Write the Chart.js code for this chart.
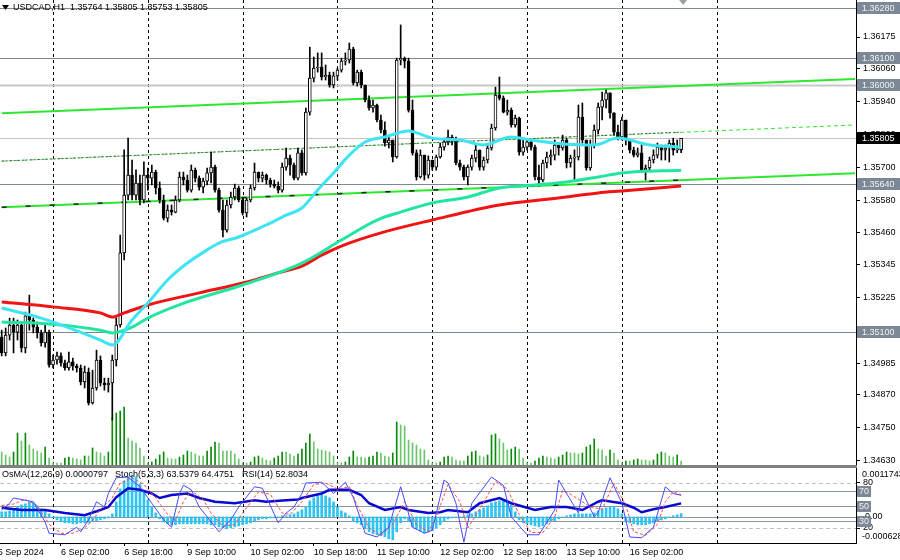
<!DOCTYPE html>
<html>
<head>
<meta charset="utf-8">
<script src="https://cdn.jsdelivr.net/npm/chart.js@4.4.1/dist/chart.umd.min.js"></script>
<style>
  body { margin: 0; background: #fff; width: 900px; height: 560px; overflow: hidden; position: relative; }
  #main { position: absolute; left: 0; top: 0; }
  #osc { position: absolute; left: 0; top: 468px; }
  #sep { position: absolute; left: 0; top: 465px; width: 857px; height: 3px; background: #808080; }
</style>
</head>
<body>
<canvas id="main" width="900" height="465"></canvas>
<div id="sep"></div>
<canvas id="osc" width="900" height="92"></canvas>
<script>
// USDCAD H1, one entry per hourly bar (bar 0 = 5 Sep 11:00)
const firstOpen = 1.35080;
const closes = [
  1.35022,1.35087,1.35124,1.35098,1.35124,1.35040,1.35157,1.35142,1.35116,1.35095,1.35058,1.35098,1.34978,
  1.34996,1.35011,1.34985,1.34967,1.34989,1.34974,1.34967,1.34916,1.34952,1.34839,1.34894,1.34996,1.34912,1.34905,1.34912,1.34996,1.35124,1.35387,1.35598,1.35671,1.35598,1.35642,1.35580,1.35671,
  1.35660,1.35682,1.35624,1.35580,1.35514,1.35543,1.35536,1.35580,1.35664,1.35653,1.35616,1.35689,1.35660,1.35627,1.35649,1.35679,1.35700,1.35616,1.35543,1.35470,1.35562,1.35591,1.35624,1.35580,
  1.35533,1.35580,1.35624,1.35682,1.35660,1.35671,1.35653,1.35638,1.35631,1.35616,1.35700,1.35733,1.35708,1.35660,1.35752,1.35679,1.35901,1.36025,1.36062,1.36065,1.36029,1.36036,1.36000,1.36033,
  1.36054,1.36087,1.36091,1.36131,1.36007,1.36047,1.36000,1.35945,1.35916,1.35927,1.35872,1.35835,1.35788,1.35799,1.35737,1.36091,1.36098,1.36087,1.35908,1.35752,1.35664,1.35744,1.35671,1.35726,
  1.35700,1.35737,1.35773,1.35792,1.35810,1.35799,1.35715,1.35700,1.35664,1.35700,1.35733,1.35762,1.35700,1.35726,1.35770,1.35843,1.35963,1.35952,1.35901,1.35908,1.35854,1.35879,1.35755,1.35773,
  1.35792,1.35773,1.35664,1.35653,1.35715,1.35737,1.35744,1.35781,1.35770,1.35799,1.35715,1.35733,1.35737,1.35883,1.35799,1.35697,1.35781,1.35835,1.35919,1.35945,1.35971,1.35898,1.35828,1.35810,
  1.35872,1.35799,1.35762,1.35744,1.35752,1.35689,1.35697,1.35726,1.35744,1.35773,1.35762,1.35770,1.35788,1.35762,1.35764,1.35805
];
const highs = [
  1.35105,1.35113,1.35149,1.35149,1.35142,1.35135,1.35171,1.35233,1.35149,1.35135,1.35105,1.35124,1.35105,
  1.35014,1.35025,1.35022,1.34996,1.35025,1.35003,1.34981,1.34978,1.34974,1.34967,1.34959,1.35032,1.35011,1.34930,1.34930,1.35014,1.35149,1.35452,1.35763,1.35806,1.35726,1.35690,1.35671,1.35719,
  1.35697,1.35708,1.35689,1.35646,1.35598,1.35562,1.35562,1.35595,1.35682,1.35682,1.35671,1.35708,1.35697,1.35668,1.35660,1.35697,1.35755,1.35708,1.35624,1.35580,1.35580,1.35609,1.35638,1.35631,
  1.35587,1.35587,1.35635,1.35715,1.35682,1.35682,1.35675,1.35660,1.35653,1.35646,1.35715,1.35770,1.35744,1.35715,1.35770,1.35762,1.35916,1.36138,1.36102,1.36117,1.36117,1.36073,1.36047,1.36047,
  1.36062,1.36098,1.36117,1.36153,1.36138,1.36054,1.36054,1.36000,1.35960,1.35945,1.35930,1.35890,1.35865,1.35814,1.35799,1.36098,1.36219,1.36102,1.36098,1.35945,1.35763,1.35763,1.35744,1.35741,
  1.35726,1.35744,1.35788,1.35806,1.35835,1.35817,1.35810,1.35726,1.35708,1.35708,1.35744,1.35781,1.35763,1.35737,1.35781,1.35857,1.35992,1.36029,1.35960,1.35945,1.35916,1.35890,1.35883,1.35799,
  1.35799,1.35799,1.35781,1.35708,1.35726,1.35755,1.35763,1.35799,1.35788,1.35817,1.35806,1.35744,1.35763,1.35927,1.35934,1.35799,1.35799,1.35854,1.35934,1.35974,1.35981,1.35971,1.35898,1.35854,
  1.35883,1.35817,1.35799,1.35773,1.35770,1.35788,1.35708,1.35737,1.35763,1.35788,1.35781,1.35781,1.35799,1.35806,1.35799,1.35805
];
const lows = [
  1.35011,1.35011,1.35069,1.35022,1.35069,1.35025,1.35022,1.35105,1.35095,1.35076,1.35047,1.35043,1.34970,
  1.34967,1.34981,1.34974,1.34959,1.34959,1.34959,1.34952,1.34905,1.34894,1.34832,1.34835,1.34886,1.34901,1.34886,1.34879,1.34777,1.34974,1.35116,1.35361,1.35580,1.35580,1.35580,1.35562,1.35569,
  1.35616,1.35635,1.35602,1.35569,1.35507,1.35500,1.35525,1.35533,1.35573,1.35635,1.35609,1.35609,1.35646,1.35616,1.35606,1.35635,1.35642,1.35609,1.35536,1.35445,1.35463,1.35551,1.35580,1.35573,
  1.35525,1.35518,1.35573,1.35616,1.35646,1.35646,1.35638,1.35627,1.35624,1.35606,1.35609,1.35689,1.35671,1.35653,1.35653,1.35671,1.35671,1.35890,1.36011,1.36047,1.36018,1.36018,1.35992,1.35989,
  1.36018,1.36047,1.36073,1.36080,1.36000,1.35996,1.35989,1.35938,1.35908,1.35901,1.35865,1.35825,1.35777,1.35770,1.35719,1.35733,1.36073,1.36062,1.35901,1.35744,1.35653,1.35660,1.35653,1.35660,
  1.35689,1.35689,1.35733,1.35762,1.35781,1.35781,1.35708,1.35689,1.35653,1.35635,1.35689,1.35719,1.35689,1.35689,1.35715,1.35762,1.35835,1.35945,1.35898,1.35890,1.35846,1.35846,1.35744,1.35744,
  1.35762,1.35762,1.35653,1.35631,1.35646,1.35697,1.35708,1.35726,1.35744,1.35762,1.35697,1.35700,1.35653,1.35726,1.35788,1.35689,1.35689,1.35770,1.35821,1.35872,1.35916,1.35879,1.35817,1.35799,
  1.35799,1.35781,1.35752,1.35737,1.35737,1.35682,1.35653,1.35689,1.35715,1.35733,1.35726,1.35726,1.35719,1.35744,1.35753,1.35753
];
const volumes = [
  13,10,8,13,32,24,32,20,16,14,12,18,7,
  2,2,2,7,8,7,6,5,9,9,17,13,12,9,13,47,52,54,58,27,24,22,17,9,
  2,3,6,10,13,7,6,6,8,10,14,13,11,9,9,14,18,23,22,14,14,14,11,6,
  2,2,3,8,9,7,5,4,7,9,13,13,11,9,11,16,22,31,23,16,15,14,13,9,
  2,2,3,8,14,8,8,7,8,9,13,12,9,8,12,43,40,39,25,22,20,16,15,5,
  2,2,3,8,9,8,5,4,4,9,13,14,9,8,10,30,31,26,22,15,16,18,16,7,
  2,2,4,7,9,8,7,6,8,10,13,12,12,11,12,18,20,26,16,15,9,15,12,5,
  2,4,4,5,6,5,5,4,5,11,13,12,9,8,10,4
];

// moving averages at selected bars
const fastMaBars = [0,10,25,28,33,37,42,47,52,55,60,67,72,76,80,84,88,92,97,103,109,116,122,129,134,143,150,156,164,172];
const fastMa = [1.35186,1.35149,1.35069,1.35051,1.35142,1.35204,1.35288,1.35350,1.35398,1.35423,1.35445,1.35489,1.35525,1.35551,1.35617,1.35679,1.35744,1.35792,1.35810,1.35832,1.35806,1.35799,1.35781,1.35810,1.35799,1.35784,1.35781,1.35806,1.35781,1.35773];
const midMaBars = [0,13,25,28,33,37,47,61,76,86,95,101,109,118,126,135,143,151,157,172];
const midMa = [1.35135,1.35127,1.35105,1.35095,1.35116,1.35149,1.35208,1.35270,1.35350,1.35434,1.35507,1.35536,1.35569,1.35591,1.35624,1.35635,1.35646,1.35664,1.35679,1.35689];
const slowMaBars = [0,13,25,28,31,37,50,61,70,76,81,86,96,109,126,143,151,157,172];
const slowMa = [1.35208,1.35190,1.35168,1.35153,1.35168,1.35197,1.35241,1.35277,1.35314,1.35339,1.35379,1.35412,1.35460,1.35507,1.35562,1.35591,1.35606,1.35613,1.35631];

// trend channel (start bar, end bar)
const channelBars = [0, 216];
const channelUpper = [1.35897, 1.36022];
const channelMiddle = [1.35722, 1.35854];
const channelLower = [1.35554, 1.35678];
const channelMarkedBars = [0, 172];
const channelMiddleMarked = [1.35722, 1.35828];
const channelLowerMarked = [1.35554, 1.35653];

const priceTicks = [1.36175,1.36060,1.35940,1.35820,1.35700,1.35580,1.35460,1.35345,1.35225,1.35105,1.34985,1.34870,1.34750,1.34630];
const levelPrices = [1.36280, 1.36100, 1.36000, 1.35640, 1.35100];
const bidPrice = 1.35805;
const dayStartBars = [13, 37, 61, 85, 109, 133, 157, 181];
const timeTickBars = [-1, 15, 31, 47, 63, 79, 95, 111, 127, 143, 159];
const timeTickLabels = ['5 Sep 2024','6 Sep 02:00','6 Sep 18:00','9 Sep 10:00','10 Sep 02:00','10 Sep 18:00','11 Sep 10:00','12 Sep 02:00','12 Sep 18:00','13 Sep 10:00','16 Sep 02:00'];
const titleText = 'USDCAD,H1  1.35764 1.35805 1.35753 1.35805';

// lower window
const osma = [
  0.00012,0.00012,0.000144,0.000192,0.00024,0.000288,0.000312,0.00036,0.000336,0.000264,0.000192,0.000144,0.000072,
  -0.000024,-0.000072,-0.00012,-0.000144,-0.000144,-0.000168,-0.000168,-0.000144,-0.000144,-0.000144,-0.00012,-0.000096,-0.000072,-0.000048,-0.000024,
  0.000072,0.00036,0.000672,0.000864,0.00096,0.001008,0.00096,0.000792,0.0006,0.000408,0.00024,0.000096,
  -0.000048,-0.00012,-0.000168,-0.000192,-0.000192,-0.000168,-0.000168,-0.000168,-0.000168,-0.000168,-0.000168,-0.000168,-0.000168,-0.000192,-0.000192,-0.00024,-0.000264,-0.000288,-0.000264,-0.00024,-0.000216,-0.000192,-0.000168,-0.000144,-0.000096,-0.000072,-0.000048,-0.000048,-0.000024,-0.000024,0,0.000024,0.000024,0.000048,0.000072,0.00012,0.000168,0.00024,
  0.000384,0.000456,0.000504,0.000528,0.000504,0.000456,0.00036,0.00024,0.000144,0.000096,0.000024,
  -0.000096,-0.000144,-0.000192,-0.000288,-0.00036,-0.000408,-0.000432,-0.000456,-0.00048,-0.000528,-0.000552,-0.00036,-0.000144,-0.000048,-0.000096,
  -0.00024,-0.000288,-0.000336,-0.000384,-0.00036,-0.000336,-0.000264,-0.000192,-0.000096,-0.000048,-0.000024,0,0,0.000024,0.000048,
  0.000072,0.00012,0.000168,0.000216,0.000264,0.000336,0.00036,0.000384,0.000408,0.000384,0.000288,0.00012,
  -0.000072,-0.000144,-0.000168,-0.000192,-0.000216,-0.00024,-0.000216,-0.000168,-0.00012,-0.000096,-0.000048,
  0,0.000024,0.000048,0.000072,0.000072,0.000072,0.000072,0.000072,0.000096,
  0.000144,0.000192,0.000216,0.00024,0.00024,0.000192,0.000072,
  -0.00012,-0.000144,-0.000168,-0.000192,-0.000192,-0.000192,-0.000168,-0.000144,-0.000096,-0.000072,-0.000048,0,0.000024,0.000048,0.0000797
];
const stochBars = [0,2,3,8,11,12,16,19,20,22,24,26,27,29,32,35,38,41,43,45,46,48,50,52,55,58,60,64,66,70,72,74,76,77,81,84,87,89,92,95,98,101,104,107,109,112,113,115,117,119,124,127,129,133,136,140,141,143,146,147,150,151,154,157,159,162,165,167,168,170,172];
const stochMain = [44,53,60,55,28,13,11,21,15,31,55,48,66,87,88,75,53,31,21,66,77,71,48,35,15,31,48,75,73,27,40,48,66,80,81,66,81,61,13,8,21,75,21,13,17,84,80,53,1,53,88,77,35,11,11,44,84,66,40,68,35,41,87,53,8,7,21,57,75,66,63.54];
const signalBars = [0,3,6,9,12,15,18,21,23,25,28,30,33,36,39,42,44,46,48,51,53,56,59,61,65,68,71,73,76,79,82,85,88,90,93,96,99,102,105,108,110,113,116,118,121,125,128,131,134,137,140,142,144,147,149,152,155,158,160,163,166,168,170,172];
const stochSignal = [50,52,58,50,25,13,13,20,30,45,60,80,87,78,60,38,30,55,70,58,40,22,25,40,68,65,40,38,55,78,80,72,75,50,20,10,25,55,25,15,35,78,55,20,45,82,72,38,14,14,35,70,65,55,48,45,80,50,15,10,25,55,68,64.48];
const rsiBars = [0,5,11,16,21,25,27,29,32,35,38,40,43,47,50,54,59,64,67,72,75,76,81,83,88,91,93,97,101,103,108,111,113,118,121,126,129,135,139,143,147,151,152,157,160,162,165,168,172];
const rsi = [47,44,44,40,37,44,48,61,73,71,66,60,64,66,60,55,53,57,55,57,58,60,66,71,71,64,53,44,48,44,40,41,44,41,53,60,53,44,48,48,44,55,57,53,47,41,45,48,52.8];
const oscLevels = [80, 70, 50, 30, 20];
const osmaRange = [-0.0006288, 0.0011743];
const oscTitles = ['OsMA(12,26,9) 0.0000797', 'Stoch(5,3,3) 63.5379 64.4751', 'RSI(14) 52.8034'];

// ---- layout helpers ----
const X_MIN = -0.43, X_MAX = 216.27;
const Y_MAX = 1.363101, Y_MIN = 1.363101 - 465 * 0.0000365;
const AXIS_FONT = { family: 'Liberation Sans, Arial, sans-serif', size: 9 };
const FONT = '9px "Liberation Sans", Arial, sans-serif';

const opens = closes.map((c, i) => i === 0 ? firstOpen : closes[i - 1]);
const candleHigh = highs.map((h, i) => Math.max(h, opens[i], closes[i]));
const candleLow = lows.map((l, i) => Math.min(l, opens[i], closes[i]));
const pts = (bars, vals) => bars.map((b, i) => ({ x: b, y: vals[i] }));

function fixWidth(w) {
  return s => { s.width = w; s.paddingTop = 0; s.paddingBottom = 0; };
}

const mainDecor = {
  id: 'mainDecor',
  beforeDatasetsDraw(chart) {
    const { ctx, chartArea: a, scales: { x, y } } = chart;
    ctx.save();
    ctx.lineWidth = 1;
    // day separators
    ctx.strokeStyle = '#000';
    ctx.setLineDash([3, 3]);
    dayStartBars.forEach(b => {
      const px = Math.round(x.getPixelForValue(b)) + 0.5;
      ctx.beginPath(); ctx.moveTo(px, a.top); ctx.lineTo(px, a.bottom); ctx.stroke();
    });
    ctx.setLineDash([]);
    // horizontal levels
    levelPrices.forEach((p, k) => {
      const py = Math.round(y.getPixelForValue(p)) + 0.5;
      ctx.strokeStyle = k === 2 ? '#c8c8c8' : '#7c8896';
      ctx.lineWidth = k === 2 ? 2 : 1;
      ctx.beginPath(); ctx.moveTo(a.left, py); ctx.lineTo(a.right, py); ctx.stroke();
    });
    const by = Math.round(y.getPixelForValue(bidPrice)) + 0.5;
    ctx.strokeStyle = '#c4c4c4'; ctx.lineWidth = 1;
    ctx.beginPath(); ctx.moveTo(a.left, by); ctx.lineTo(a.right, by); ctx.stroke();
    ctx.restore();
  },
  afterDraw(chart) {
    const { ctx, chartArea: a, scales: { x, y } } = chart;
    ctx.save();
    ctx.font = FONT;
    ctx.textBaseline = 'middle';
    const box = (p, bg, fg) => {
      const py = Math.round(y.getPixelForValue(p));
      ctx.fillStyle = bg;
      ctx.fillRect(a.right + 1, py - 6, 900 - a.right - 1, 12);
      ctx.fillStyle = fg;
      ctx.fillText(p.toFixed(5), a.right + 6, py + 0.5);
    };
    levelPrices.forEach(p => box(p, '#7c8896', '#f2f2f2'));
    box(bidPrice, '#000', '#fff');
    // title
    ctx.fillStyle = '#000';
    ctx.beginPath(); ctx.moveTo(2, 5); ctx.lineTo(9, 5); ctx.lineTo(5.5, 10); ctx.closePath(); ctx.fill();
    ctx.fillText(titleText, 13, 8);
    // chart shift marker
    const sx = x.getPixelForValue(172.5);
    ctx.fillStyle = '#a0a0a0';
    ctx.beginPath(); ctx.moveTo(sx - 4, 0); ctx.lineTo(sx + 4, 0); ctx.lineTo(sx, 5); ctx.closePath(); ctx.fill();
    ctx.restore();
  }
};

const lineDs = (data, color, width, extra) => Object.assign({
  type: 'line', data, borderColor: color, borderWidth: width, pointRadius: 0,
  fill: false, yAxisID: 'y'
}, extra || {});

new Chart(document.getElementById('main'), {
  type: 'bar',
  data: {
    datasets: [
      {
        data: volumes.map((v, i) => ({ x: i, y: v })),
        yAxisID: 'vol', barThickness: 1, grouped: false, order: 20,
        backgroundColor: volumes.map((v, i) => i > 0 && v > volumes[i - 1] ? '#0a8a0a' : '#6cc46c')
      },
      lineDs(pts(channelBars, channelUpper), '#2ee82e', 2, { order: 12 }),
      lineDs(pts(channelBars, channelMiddle), '#2ee82e', 1, { order: 12, borderDash: [4, 3] }),
      lineDs(pts(channelMarkedBars, channelMiddleMarked), '#555', 1, { order: 11, borderDash: [2, 2] }),
      lineDs(pts(channelBars, channelLower), '#2ee82e', 2, { order: 12 }),
      lineDs(pts(channelMarkedBars, channelLowerMarked), '#222', 1.5, { order: 11, borderDash: [5, 19] }),
      {
        data: candleLow.map((l, i) => ({ x: i, y: [l, candleHigh[i]] })),
        yAxisID: 'y', barThickness: 1, grouped: false, order: 9, backgroundColor: '#000'
      },
      {
        data: closes.map((c, i) => ({ x: i, y: [opens[i], c] })),
        yAxisID: 'y', barThickness: 3, grouped: false, order: 8, minBarLength: 1,
        backgroundColor: closes.map((c, i) => c >= opens[i] ? '#fff' : '#000'),
        borderColor: '#000', borderWidth: 1, borderSkipped: false
      },
      lineDs(pts(slowMaBars, slowMa), '#f01414', 3, { order: 3, cubicInterpolationMode: 'monotone' }),
      lineDs(pts(midMaBars, midMa), '#22e6a0', 3, { order: 2, cubicInterpolationMode: 'monotone' }),
      lineDs(pts(fastMaBars, fastMa), '#3ee4f2', 3, { order: 1, cubicInterpolationMode: 'monotone' })
    ]
  },
  options: {
    responsive: false,
    animation: false,
    events: [],
    layout: { padding: 0 },
    plugins: { legend: { display: false }, tooltip: { enabled: false } },
    scales: {
      x: { type: 'linear', min: X_MIN, max: X_MAX, offset: false, display: false },
      y: {
        position: 'right', min: Y_MIN, max: Y_MAX,
        afterBuildTicks: s => { s.ticks = priceTicks.map(v => ({ value: v })); },
        afterFit: fixWidth(44),
        ticks: { callback: v => Number(v).toFixed(5), font: AXIS_FONT, color: '#000', padding: 3, autoSkip: false },
        grid: { drawOnChartArea: false, tickLength: 4, color: '#000' },
        border: { display: true, color: '#000' }
      },
      vol: { display: false, min: 0, max: 465 }
    }
  },
  plugins: [mainDecor]
});

const oscDecor = {
  id: 'oscDecor',
  beforeDatasetsDraw(chart) {
    const { ctx, chartArea: a, scales: { x, y, osma: o } } = chart;
    ctx.save();
    ctx.lineWidth = 1;
    oscLevels.forEach(v => {
      const py = Math.round(y.getPixelForValue(v)) + 0.5;
      const dashed = v === 80 || v === 20;
      ctx.strokeStyle = dashed ? '#c0c0c0' : '#8a96a2';
      ctx.setLineDash(dashed ? [4, 3] : []);
      ctx.beginPath(); ctx.moveTo(a.left, py); ctx.lineTo(a.right, py); ctx.stroke();
    });
    ctx.setLineDash([]);
    const zy = Math.round(o.getPixelForValue(0)) + 0.5;
    ctx.strokeStyle = '#8a96a2';
    ctx.beginPath(); ctx.moveTo(a.left, zy); ctx.lineTo(a.right, zy); ctx.stroke();
    ctx.strokeStyle = '#000';
    ctx.setLineDash([3, 3]);
    dayStartBars.forEach(b => {
      const px = Math.round(x.getPixelForValue(b)) + 0.5;
      ctx.beginPath(); ctx.moveTo(px, a.top); ctx.lineTo(px, a.bottom); ctx.stroke();
    });
    ctx.restore();
  },
  afterDraw(chart) {
    const { ctx, chartArea: a, scales: { y, osma: o } } = chart;
    ctx.save();
    ctx.font = FONT;
    ctx.textBaseline = 'middle';
    ctx.fillStyle = '#000';
    ctx.fillText(oscTitles[0], 2, 7 + a.top);
    ctx.fillText(oscTitles[1], 115, 7 + a.top);
    ctx.fillText(oscTitles[2], 242, 7 + a.top);
    // OsMA scale labels
    ctx.fillText(osmaRange[1].toFixed(7), a.right + 6, o.getPixelForValue(osmaRange[1]) + 7);
    ctx.fillText('0.00', a.right + 9, o.getPixelForValue(0));
    ctx.fillText(osmaRange[0].toFixed(7), a.right + 6, o.getPixelForValue(osmaRange[0]) - 6);
    [70, 50, 30].forEach(v => {
      const py = Math.round(y.getPixelForValue(v));
      ctx.fillStyle = '#7c8896';
      ctx.fillRect(a.right + 1, py - 5, 14, 11);
      ctx.fillStyle = '#f2f2f2';
      ctx.fillText(String(v), a.right + 3, py + 0.5);
    });
    ctx.restore();
  }
};

new Chart(document.getElementById('osc'), {
  type: 'bar',
  data: {
    datasets: [
      {
        data: osma.map((v, i) => ({ x: i, y: v })),
        yAxisID: 'osma', barThickness: 2, grouped: false, order: 10, backgroundColor: '#2ec4f2'
      },
      lineDs(pts(rsiBars, rsi), '#0a0ad0', 2.5, { order: 3 }),
      lineDs(pts(signalBars, stochSignal), '#ff4a4a', 1, { order: 2, borderDash: [3, 2] }),
      lineDs(pts(stochBars, stochMain), '#4848ff', 1, { order: 1 })
    ]
  },
  options: {
    responsive: false,
    animation: false,
    events: [],
    layout: { padding: 0 },
    plugins: { legend: { display: false }, tooltip: { enabled: false } },
    scales: {
      x: {
        type: 'linear', min: X_MIN, max: X_MAX, offset: false, position: 'bottom',
        afterBuildTicks: s => { s.ticks = timeTickBars.map(v => ({ value: v })); },
        afterFit: s => { s.height = 17; s.paddingLeft = 0; s.paddingRight = 0; },
        ticks: {
          callback: v => timeTickLabels[timeTickBars.indexOf(v)],
          align: 'start', autoSkip: false, maxRotation: 0, font: AXIS_FONT, color: '#000', padding: 1
        },
        grid: { drawOnChartArea: false, tickLength: 3, color: '#000', offset: false },
        border: { display: true, color: '#000' }
      },
      y: {
        position: 'right', min: 0, max: 100,
        afterBuildTicks: s => { s.ticks = [{ value: 20 }, { value: 80 }]; },
        afterFit: fixWidth(44),
        ticks: { font: AXIS_FONT, color: '#000', padding: 3 },
        grid: { drawOnChartArea: false, tickLength: 4, color: '#000' },
        border: { display: true, color: '#000' }
      },
      osma: { display: false, min: osmaRange[0], max: osmaRange[1] }
    }
  },
  plugins: [oscDecor]
});
</script>
</body>
</html>
